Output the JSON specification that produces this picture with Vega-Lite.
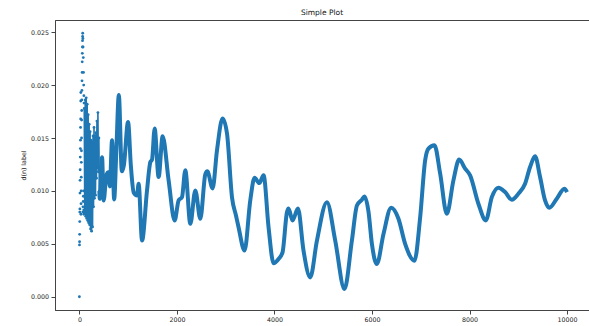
{
  "$schema": "https://vega.github.io/schema/vega-lite/v6.json",
  "width": 534,
  "height": 290,
  "autosize": {"type": "none"},
  "padding": {"left": 55, "top": 20, "right": 0, "bottom": 16},
  "title": {"text": "Simple Plot", "fontSize": 7.5, "font": "DejaVu Sans", "fontWeight": "normal", "color": "#111", "offset": 4, "anchor": "middle"},
  "config": {
    "view": {"stroke": "#444", "strokeWidth": 1},
    "axis": {"domainColor": "#444", "tickColor": "#444", "labelColor": "#222", "titleColor": "#222", "labelFont": "DejaVu Sans", "titleFont": "DejaVu Sans", "titleFontWeight": "normal", "labelFontSize": 6.3, "titleFontSize": 6.3, "tickSize": 4, "labelPadding": 2.5, "grid": false}
  },
  "datasets": {
    "pts": [
      {"part": "dot", "x": 0, "y": 0.0},
      {"part": "dot", "x": 2, "y": 0.0049},
      {"part": "dot", "x": 4, "y": 0.0052},
      {"part": "dot", "x": 5, "y": 0.0059},
      {"part": "dot", "x": 7, "y": 0.0071},
      {"part": "dot", "x": 8, "y": 0.0080},
      {"part": "dot", "x": 10, "y": 0.0083},
      {"part": "dot", "x": 12, "y": 0.0098},
      {"part": "dot", "x": 14, "y": 0.0110},
      {"part": "dot", "x": 16, "y": 0.0120},
      {"part": "dot", "x": 18, "y": 0.0132},
      {"part": "dot", "x": 20, "y": 0.0140},
      {"part": "dot", "x": 22, "y": 0.0148},
      {"part": "dot", "x": 24, "y": 0.0160},
      {"part": "dot", "x": 26, "y": 0.0168},
      {"part": "dot", "x": 28, "y": 0.0185},
      {"part": "dot", "x": 30, "y": 0.0193},
      {"part": "dot", "x": 32, "y": 0.0078},
      {"part": "dot", "x": 34, "y": 0.0088},
      {"part": "dot", "x": 36, "y": 0.0100},
      {"part": "dot", "x": 38, "y": 0.0113},
      {"part": "dot", "x": 40, "y": 0.0127},
      {"part": "dot", "x": 42, "y": 0.0138},
      {"part": "dot", "x": 44, "y": 0.0150},
      {"part": "dot", "x": 46, "y": 0.0167},
      {"part": "dot", "x": 48, "y": 0.0176},
      {"part": "dot", "x": 50, "y": 0.0186},
      {"part": "dot", "x": 52, "y": 0.0195},
      {"part": "dot", "x": 54, "y": 0.0204},
      {"part": "dot", "x": 56, "y": 0.0212},
      {"part": "dot", "x": 58, "y": 0.0222},
      {"part": "dot", "x": 60, "y": 0.0230},
      {"part": "dot", "x": 62, "y": 0.0236},
      {"part": "dot", "x": 64, "y": 0.0242},
      {"part": "dot", "x": 66, "y": 0.0246},
      {"part": "dot", "x": 68, "y": 0.0249},
      {"part": "dot", "x": 70, "y": 0.0080},
      {"part": "dot", "x": 72, "y": 0.0244},
      {"part": "dot", "x": 74, "y": 0.0085},
      {"part": "dot", "x": 76, "y": 0.0236},
      {"part": "dot", "x": 78, "y": 0.0090},
      {"part": "dot", "x": 80, "y": 0.0226},
      {"part": "dot", "x": 82, "y": 0.0095},
      {"part": "dot", "x": 84, "y": 0.0212},
      {"part": "dot", "x": 86, "y": 0.0100},
      {"part": "dot", "x": 88, "y": 0.0200},
      {"part": "dot", "x": 90, "y": 0.0082},
      {"part": "dot", "x": 92, "y": 0.0190},
      {"part": "dot", "x": 94, "y": 0.0078},
      {"part": "dot", "x": 96, "y": 0.0183},
      {"part": "dot", "x": 98, "y": 0.0080},
      {"part": "zig", "x": 100, "y": 0.0178},
      {"part": "zig", "x": 110, "y": 0.0079},
      {"part": "zig", "x": 120, "y": 0.0186},
      {"part": "zig", "x": 130, "y": 0.0076},
      {"part": "zig", "x": 140, "y": 0.0188},
      {"part": "zig", "x": 150, "y": 0.0074},
      {"part": "zig", "x": 160, "y": 0.0182},
      {"part": "zig", "x": 170, "y": 0.0072},
      {"part": "zig", "x": 180, "y": 0.0172},
      {"part": "zig", "x": 190, "y": 0.0070},
      {"part": "zig", "x": 200, "y": 0.0163},
      {"part": "zig", "x": 210, "y": 0.0068},
      {"part": "zig", "x": 220, "y": 0.0156},
      {"part": "zig", "x": 230, "y": 0.0064},
      {"part": "zig", "x": 240, "y": 0.0148},
      {"part": "zig", "x": 250, "y": 0.0062},
      {"part": "zig", "x": 260, "y": 0.0146},
      {"part": "zig", "x": 270, "y": 0.0066},
      {"part": "zig", "x": 280, "y": 0.0152},
      {"part": "zig", "x": 290, "y": 0.0085},
      {"part": "zig", "x": 300, "y": 0.0160},
      {"part": "zig", "x": 310, "y": 0.0093},
      {"part": "zig", "x": 320, "y": 0.0152},
      {"part": "zig", "x": 330, "y": 0.0096},
      {"part": "zig", "x": 340, "y": 0.0155},
      {"part": "zig", "x": 350, "y": 0.0112},
      {"part": "zig", "x": 360, "y": 0.0166},
      {"part": "zig", "x": 370, "y": 0.0122},
      {"part": "zig", "x": 380, "y": 0.0174},
      {"part": "zig", "x": 390, "y": 0.0118},
      {"part": "zig", "x": 400, "y": 0.0150},
      {"part": "zig", "x": 410, "y": 0.0100},
      {"part": "curve", "x": 416, "y": 0.00926},
      {"part": "curve", "x": 465, "y": 0.01318},
      {"part": "curve", "x": 498, "y": 0.00910},
      {"part": "curve", "x": 553, "y": 0.01147},
      {"part": "curve", "x": 594, "y": 0.01176},
      {"part": "curve", "x": 625, "y": 0.01043},
      {"part": "curve", "x": 670, "y": 0.01479},
      {"part": "curve", "x": 713, "y": 0.00920},
      {"part": "curve", "x": 758, "y": 0.01384},
      {"part": "curve", "x": 809, "y": 0.01906},
      {"part": "curve", "x": 871, "y": 0.01185},
      {"part": "curve", "x": 912, "y": 0.01242},
      {"part": "curve", "x": 998, "y": 0.01652},
      {"part": "curve", "x": 1055, "y": 0.01242},
      {"part": "curve", "x": 1113, "y": 0.00986},
      {"part": "curve", "x": 1182, "y": 0.00958},
      {"part": "curve", "x": 1215, "y": 0.01068},
      {"part": "curve", "x": 1285, "y": 0.00531},
      {"part": "curve", "x": 1387, "y": 0.01005},
      {"part": "curve", "x": 1455, "y": 0.01273},
      {"part": "curve", "x": 1490, "y": 0.01296},
      {"part": "curve", "x": 1543, "y": 0.01590},
      {"part": "curve", "x": 1625, "y": 0.01131},
      {"part": "curve", "x": 1707, "y": 0.01517},
      {"part": "curve", "x": 1830, "y": 0.01100},
      {"part": "curve", "x": 1953, "y": 0.00721},
      {"part": "curve", "x": 2035, "y": 0.00910},
      {"part": "curve", "x": 2104, "y": 0.00941},
      {"part": "curve", "x": 2172, "y": 0.01195},
      {"part": "curve", "x": 2275, "y": 0.00689},
      {"part": "curve", "x": 2377, "y": 0.01005},
      {"part": "curve", "x": 2480, "y": 0.00737},
      {"part": "curve", "x": 2582, "y": 0.01157},
      {"part": "curve", "x": 2623, "y": 0.01185},
      {"part": "curve", "x": 2732, "y": 0.01024},
      {"part": "curve", "x": 2822, "y": 0.01384},
      {"part": "curve", "x": 2936, "y": 0.01685},
      {"part": "curve", "x": 3027, "y": 0.01542},
      {"part": "curve", "x": 3129, "y": 0.00941},
      {"part": "curve", "x": 3211, "y": 0.00768},
      {"part": "curve", "x": 3264, "y": 0.00657},
      {"part": "curve", "x": 3387, "y": 0.00436},
      {"part": "curve", "x": 3504, "y": 0.00910},
      {"part": "curve", "x": 3592, "y": 0.01125},
      {"part": "curve", "x": 3689, "y": 0.01074},
      {"part": "curve", "x": 3777, "y": 0.01147},
      {"part": "curve", "x": 3879, "y": 0.00657},
      {"part": "curve", "x": 3982, "y": 0.00316},
      {"part": "curve", "x": 4084, "y": 0.00357},
      {"part": "curve", "x": 4166, "y": 0.00420},
      {"part": "curve", "x": 4256, "y": 0.00799},
      {"part": "curve", "x": 4289, "y": 0.00834},
      {"part": "curve", "x": 4371, "y": 0.00721},
      {"part": "curve", "x": 4482, "y": 0.00834},
      {"part": "curve", "x": 4596, "y": 0.00436},
      {"part": "curve", "x": 4734, "y": 0.00183},
      {"part": "curve", "x": 4871, "y": 0.00531},
      {"part": "curve", "x": 5076, "y": 0.00894},
      {"part": "curve", "x": 5246, "y": 0.00531},
      {"part": "curve", "x": 5436, "y": 0.00073},
      {"part": "curve", "x": 5588, "y": 0.00531},
      {"part": "curve", "x": 5691, "y": 0.00863},
      {"part": "curve", "x": 5793, "y": 0.00917},
      {"part": "curve", "x": 5846, "y": 0.00948},
      {"part": "curve", "x": 5928, "y": 0.00806},
      {"part": "curve", "x": 5998, "y": 0.00500},
      {"part": "curve", "x": 6100, "y": 0.00310},
      {"part": "curve", "x": 6236, "y": 0.00594},
      {"part": "curve", "x": 6393, "y": 0.00841},
      {"part": "curve", "x": 6543, "y": 0.00737},
      {"part": "curve", "x": 6680, "y": 0.00500},
      {"part": "curve", "x": 6871, "y": 0.00341},
      {"part": "curve", "x": 6988, "y": 0.00752},
      {"part": "curve", "x": 7090, "y": 0.01289},
      {"part": "curve", "x": 7158, "y": 0.01400},
      {"part": "curve", "x": 7281, "y": 0.01432},
      {"part": "curve", "x": 7398, "y": 0.01163},
      {"part": "curve", "x": 7535, "y": 0.00784},
      {"part": "curve", "x": 7670, "y": 0.01100},
      {"part": "curve", "x": 7787, "y": 0.01296},
      {"part": "curve", "x": 7910, "y": 0.01211},
      {"part": "curve", "x": 8012, "y": 0.01147},
      {"part": "curve", "x": 8182, "y": 0.00879},
      {"part": "curve", "x": 8334, "y": 0.00721},
      {"part": "curve", "x": 8457, "y": 0.00941},
      {"part": "curve", "x": 8592, "y": 0.01031},
      {"part": "curve", "x": 8730, "y": 0.00989},
      {"part": "curve", "x": 8867, "y": 0.00917},
      {"part": "curve", "x": 9002, "y": 0.00974},
      {"part": "curve", "x": 9139, "y": 0.01068},
      {"part": "curve", "x": 9242, "y": 0.01226},
      {"part": "curve", "x": 9344, "y": 0.01327},
      {"part": "curve", "x": 9447, "y": 0.01131},
      {"part": "curve", "x": 9549, "y": 0.00910},
      {"part": "curve", "x": 9637, "y": 0.00841},
      {"part": "curve", "x": 9789, "y": 0.00926},
      {"part": "curve", "x": 9945, "y": 0.01021},
      {"part": "curve", "x": 10000, "y": 0.00989}
    ]
  },
  "data": {"name": "pts"},
  "encoding": {
    "x": {"field": "x", "type": "quantitative", "scale": {"domain": [-500, 10450], "nice": false, "zero": false},
      "axis": {"values": [0, 2000, 4000, 6000, 8000, 10000], "format": "d", "title": null}},
    "y": {"field": "y", "type": "quantitative", "scale": {"domain": [-0.00125, 0.02615], "nice": false, "zero": false},
      "axis": {"values": [0, 0.005, 0.01, 0.015, 0.02, 0.025], "format": ".3f", "title": "d(n) label", "titlePadding": 4}}
  },
  "layer": [
    {"transform": [{"filter": "datum.part === 'zig'"}], "mark": {"type": "line", "color": "#1f77b4", "strokeWidth": 1.6, "interpolate": "linear"}},
    {"transform": [{"filter": "datum.part !== 'curve'"}], "mark": {"type": "point", "filled": true, "color": "#1f77b4", "opacity": 1, "size": 8}},
    {"transform": [{"filter": "datum.part === 'curve' || datum.x === 410"}], "mark": {"type": "line", "color": "#1f77b4", "strokeWidth": 4, "interpolate": "monotone"}}
  ]
}
